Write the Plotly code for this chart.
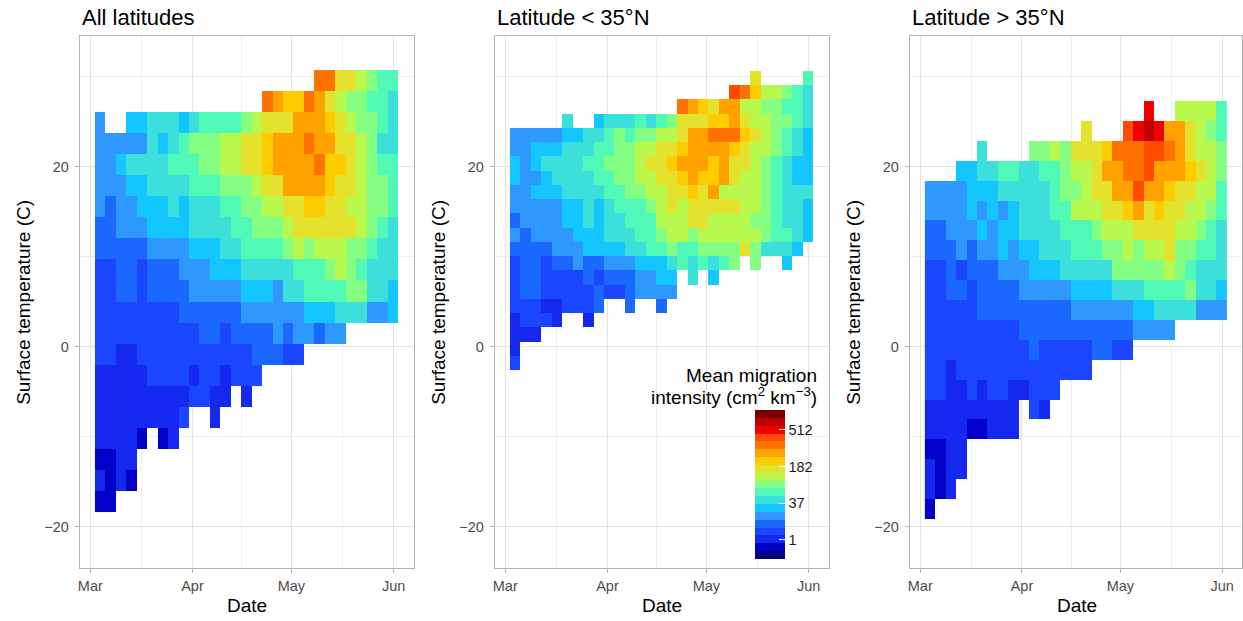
import plotly.graph_objects as go
from datetime import datetime, timedelta

FONT = "Liberation Sans, Arial, Helvetica, sans-serif"
W, H = 1243, 621

# ---------------- data ----------------
PANEL_TITLES = ["All latitudes", "Latitude < 35°N", "Latitude > 35°N"]
X_TITLE = "Date"
Y_TITLE = "Surface temperature (C)"
LEGEND_TITLE_1 = "Mean migration"
LEGEND_TITLE_2 = "intensity (cm<sup>2</sup> km<sup>−3</sup>)"

MONTH_TICKS = ["2021-03-01", "2021-04-01", "2021-05-01", "2021-06-01"]
MONTH_LABELS = ["Mar", "Apr", "May", "Jun"]
MONTH_MINOR = ["2021-03-16 12:00", "2021-04-16", "2021-05-16 12:00"]
TEMP_TICKS = [-20, 0, 20]
TEMP_MINOR = [-10, 10, 30]
LEGEND_BREAKS = [1, 37, 182, 512]

SEASON_START = datetime(2021, 3, 1)
DATE_BIN_OFFSET_DAYS = 1.42
DATE_BIN_DAYS = 3.172
N_DATE_BINS = 29
TEMP_BIN_RANGES = [(-18.40, 30.74), (-2.59, 30.63), (-19.14, 27.30)]

# colour band per cell (cube-root intensity band 0..18), rows listed top (warm) to bottom (cold)
CODES = "0123456789abcdefghi"
ALL_LAT = [
    "....................." + "eebba988",
    "................" + "edccedba99887",
    "5.." + "6677767888" + "89abbbdddc" + "ba9987",
    "55555" + "76789" + "99aabbcddd" + "eddbba977",
    "5567777888" + "99aabbcddd" + "deccba988",
    "5556677778" + "88999abbdd" + "ddcbba998",
    "5455666767" + "778899aabb" + "ccbbaa998",
    "4455566667" + "77788999ab" + "bbbbba987",
    "4444455556" + "667788889a" + "9aaa99877",
    "3344344455" + "5666777778" + "889a98777",
    "3344344445" + "5555666577" + "888899776",
    "3333333344" + "4444555555" + "666777556",
    "3333333333" + "4434444545" + "5455.....",
    "3322333333" + "3333344433" + ".........",
    "2222233332" + "332333...." + ".........",
    "2222222223" + "322.2....." + ".........",
    "222222223." + ".2........" + ".........",
    "22221.12.." + ".........." + ".........",
    "1122......" + ".........." + ".........",
    "2121......" + ".........." + ".........",
    "11........" + ".........." + ".........",
]
LOW_LAT = [
    "......................." + "b....8",
    "....................." + "fecaa987",
    "................" + "edcbddaa99887",
    ".....7..67" + "778789bbbc" + "cdbaa9987",
    "5555566778" + "9899aabdde" + "eecba9876",
    "5566677788" + "99aabbcddd" + "dcbaa9876",
    "6567777889" + "99abbcdddc" + "dbba98766",
    "6556777788" + "99aabbcdcc" + "dbaa98766",
    "5566677778" + "899aabbcbd" + "aaaa98777",
    "5555566767" + "8889ababbb" + "bbaa98776",
    "4555566767" + "7888aaabba" + "aaa998776",
    "5455556667" + "77889aa9aa" + "aaaa98876",
    "4444555666" + "6778898899" + "99b97776.",
    "3443445445" + "5566678787" + "89.9..6..",
    "3443333434" + "445566.7.6" + ".........",
    "3443333343" + "345555...." + ".........",
    "333223334." + ".4..4....." + ".........",
    "23332..2.." + ".........." + ".........",
    "222......." + ".........." + ".........",
    "2........." + ".........." + ".........",
    "3........." + ".........." + ".........",
]
HIGH_LAT = [
    ".........." + ".........." + ".g..aaaa8",
    ".........." + ".....b...f" + "ghgddba98",
    ".....7...." + "99a9bbbcee" + "effedbaa9",
    "...6677887" + "7889aabdde" + "efdddcba9",
    "5555666777" + "77899abbdd" + "fddcbbaa8",
    "5555656567" + "7788aaabbc" + "dbcbbaa98",
    "4455565667" + "7778889aaa" + "bbbbaa987",
    "4445455656" + "677788899a" + "9aab99887",
    "3343444555" + "6667777799" + "999a98777",
    "3344344445" + "5555666677" + "788889776",
    "3333344444" + "4444555555" + "667777555",
    "3333333334" + "4444444444" + "5555.....",
    "3333333333" + "4333334433" + ".........",
    "3323333333" + "333333...." + ".........",
    "3322323322" + "333......." + ".........",
    "222222222." + "32........" + ".........",
    "222211222." + ".........." + ".........",
    "1122......" + ".........." + ".........",
    "2122......" + ".........." + ".........",
    "212......." + ".........." + ".........",
    "1........." + ".........." + ".........",
]
PANELS = [ALL_LAT, LOW_LAT, HIGH_LAT]

BAND_COLOURS = ["#000080", "#0000c8", "#1428f0", "#1a46ff", "#1a68ff", "#2e98ff", "#14c6ff",
                "#3ce0da", "#50fab6", "#84ff84", "#b8f84c", "#e4e22c", "#ffcc00", "#ffa200",
                "#ff7200", "#ff4a00", "#f00000", "#c00000", "#7a0000"]
SCALE_MIN, SCALE_MAX = -0.23, 9.27   # cube-root intensity limits of the colour scale

# ---------------- helpers ----------------
def band_value(ch):
    if ch == ".":
        return None
    b = CODES.index(ch)
    return SCALE_MIN + (SCALE_MAX - SCALE_MIN) * (b + 0.5) / len(BAND_COLOURS)

n_b = len(BAND_COLOURS)
colorscale = []
for i, c in enumerate(BAND_COLOURS):
    colorscale.append([i / n_b, c])
    colorscale.append([(i + 1) / n_b, c])

date_centres = [SEASON_START + timedelta(days=DATE_BIN_OFFSET_DAYS + DATE_BIN_DAYS * (k + 0.5))
                for k in range(N_DATE_BINS)]
x_range = [SEASON_START - timedelta(days=3.175), SEASON_START + timedelta(days=98.04)]
y_range = [-24.62, 34.52]

px_left = [78.0, 494.0, 910.0]
px_width = 334.5
y_dom = [(H - 568.3) / H, (H - 36.0) / H]

fig = go.Figure()
grid_major = "#e3e3e3"
grid_minor = "#efefef"
border = "#b3b3b3"
tickfont = dict(family=FONT, size=14.5, color="#4d4d4d")

for i, rows in enumerate(PANELS):
    t0, t1 = TEMP_BIN_RANGES[i]
    n_t = len(rows)
    h = (t1 - t0) / n_t
    y_centres = [t0 + h * (r + 0.5) for r in range(n_t)]
    z = [[band_value(ch) for ch in row] for row in reversed(rows)]
    ax = "" if i == 0 else str(i + 1)
    fig.add_trace(go.Heatmap(
        x=date_centres, y=y_centres, z=z, coloraxis="coloraxis",
        xaxis="x" + ax, yaxis="y" + ax, hoverinfo="skip", zsmooth=False))
    dom_x = [px_left[i] / W, min(1.0, (px_left[i] + px_width) / W)]
    fig.layout["xaxis" + ax] = dict(
        domain=dom_x, anchor="y" + ax, type="date", range=x_range,
        tickmode="array", tickvals=MONTH_TICKS, ticktext=MONTH_LABELS,
        ticks="outside", ticklen=4, tickwidth=1, tickcolor=border,
        showline=True, linecolor=border, linewidth=1, mirror=True,
        showgrid=True, gridcolor=grid_major, gridwidth=1, zeroline=False,
        minor=dict(tickmode="array", tickvals=MONTH_MINOR, showgrid=True,
                   gridcolor=grid_minor, gridwidth=0.7, ticks=""),
        tickfont=tickfont, fixedrange=True)
    fig.layout["yaxis" + ax] = dict(
        domain=y_dom, anchor="x" + ax, range=y_range,
        tickmode="array", tickvals=TEMP_TICKS,
        ticks="outside", ticklen=4, tickwidth=1, tickcolor=border,
        showline=True, linecolor=border, linewidth=1, mirror=True,
        showgrid=True, gridcolor=grid_major, gridwidth=1, zeroline=False,
        minor=dict(tickmode="array", tickvals=TEMP_MINOR, showgrid=True,
                   gridcolor=grid_minor, gridwidth=0.7, ticks=""),
        ticklabelstandoff=3,
        tickfont=tickfont, fixedrange=True)

    # titles
    fig.add_annotation(x=px_left[i] / W, y=1 - 17.5 / H, xref="paper", yref="paper",
                       text=PANEL_TITLES[i], showarrow=False, xanchor="left", yanchor="middle",
                       font=dict(family=FONT, size=22, color="black"))
    cx = px_left[i] + px_width / 2
    fig.add_annotation(x=cx / W, y=1 - 605.5 / H, xref="paper", yref="paper",
                       text=X_TITLE, showarrow=False, xanchor="center", yanchor="middle",
                       font=dict(family=FONT, size=19, color="black"))
    fig.add_annotation(x=(px_left[i] - 56.3) / W, y=1 - 302.2 / H, xref="paper", yref="paper",
                       text=Y_TITLE, showarrow=False, xanchor="center", yanchor="middle",
                       textangle=-90, font=dict(family=FONT, size=19, color="black"))

fig.add_annotation(x=818.5 / W, y=1 - 375.5 / H, xref="paper", yref="paper",
                   text=LEGEND_TITLE_1, showarrow=False, xanchor="right", yanchor="middle",
                   font=dict(family=FONT, size=19, color="black"))
fig.add_annotation(x=818.5 / W, y=1 - 396.5 / H, xref="paper", yref="paper",
                   text=LEGEND_TITLE_2, showarrow=False, xanchor="right", yanchor="middle",
                   font=dict(family=FONT, size=19, color="black"))

fig.update_layout(
    width=W, height=H, margin=dict(l=0, r=0, t=0, b=0),
    paper_bgcolor="white", plot_bgcolor="white", showlegend=False,
    font=dict(family=FONT),
    coloraxis=dict(
        colorscale=colorscale, cmin=SCALE_MIN, cmax=SCALE_MAX,
        colorbar=dict(
            x=755 / W, xanchor="left", y=1 - 410 / H, yanchor="top",
            len=149.3, lenmode="pixels", thickness=30, thicknessmode="pixels",
            xpad=0, ypad=0, outlinewidth=0,
            tickmode="array", tickvals=[b ** (1 / 3) for b in LEGEND_BREAKS],
            ticktext=[str(b) for b in LEGEND_BREAKS], tickprefix=" ",
            ticks="inside", ticklen=6, tickcolor="white", tickwidth=1,
            tickfont=dict(family=FONT, size=14.5, color="#1a1a1a"),
        ),
    ),
)

fig.write_html("out.html")
